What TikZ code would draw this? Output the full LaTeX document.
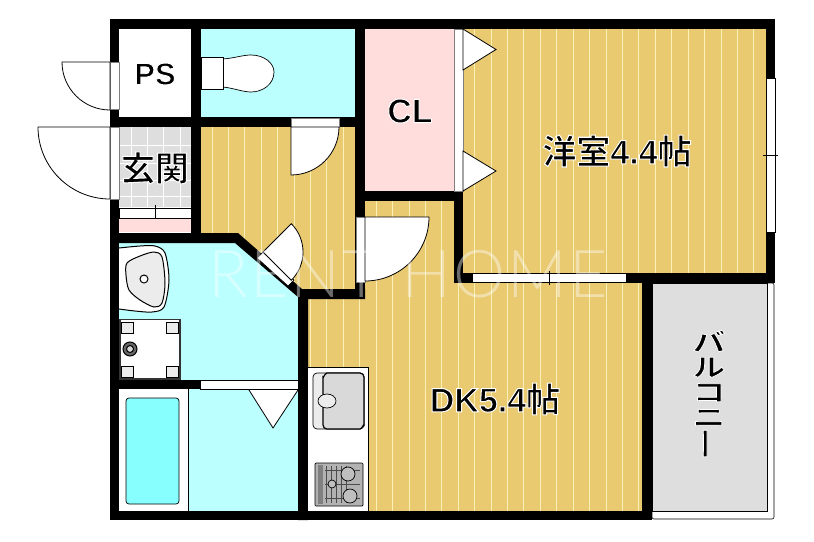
\documentclass[tikz,border=0pt]{standalone}
\usepackage{fontspec}
\usepackage{graphicx}
\setmainfont{Liberation Sans}
\newfontfamily\labelfont[FakeBold = 3]{Liberation Sans Bold}
\newfontfamily\cjk[FakeBold = 3]{Noto Sans CJK JP Bold}
\newfontfamily\cjkwide[FakeBold = 3, FakeStretch = 1.3]{Noto Sans CJK JP Bold}
\newfontfamily\markfont[LetterSpace = 3.3]{Lato Light}
\definecolor{floorwood}{HTML}{E9CA70}
\definecolor{floorline}{HTML}{FFF0B8}
\definecolor{wetroom}{HTML}{BBFFFF}
\definecolor{closetpink}{HTML}{FFDDDD}
\definecolor{tilegray}{HTML}{DEDEDE}
\definecolor{tubblue}{HTML}{88FFFF}
\newcommand{\whiterim}{\special{pdf:code 1 1 1 RG}}
\tikzset{
	wall/.style = {fill = black},
	door/.style = {draw = black, fill = white, line width = 0.8pt},
	fitting/.style = {draw = black, fill = white, line width = 0.7pt},
	roomlabel/.style = {inner sep = 0pt, font = \labelfont\fontsize{34}{34}\selectfont}
}

\begin{document}
\begin{tikzpicture}[x = 1pt, y = -1pt]
\useasboundingbox (0, 0) rectangle (814, 541);

% Wooden floors

\begin{scope}
	\clip (201, 127) rectangle (365, 299) (308, 283) rectangle (642, 511) (365, 201) rectangle (454, 283) (463, 29) rectangle (766, 273);
	\fill [floorwood] (201, 29) rectangle (766, 511);
	\foreach \k in {0, ..., 33}
		\draw [floorline, line width = 1pt] ({212 + 16.42 * \k}, 29) -- ({212 + 16.42 * \k}, 511);
\end{scope}

% Other floors

\fill [wetroom] (201, 29) rectangle (355, 117);
\fill [wetroom] (119, 243) -- (236, 243) -- (298, 297) -- (298, 511) -- (119, 511) -- cycle;
\fill [closetpink] (365, 29) rectangle (454, 191);
\fill [closetpink] (119, 219) rectangle (191, 232);
\fill [tilegray] (119, 127) rectangle (191, 207);
\foreach \x in {131, 147, 163, 180}
	\draw [white, line width = 0.8pt] (\x, 127) -- (\x, 207);
\foreach \y in {145, 163, 180, 196}
	\draw [white, line width = 0.8pt] (119, \y) -- (191, \y);

% Balcony

\draw [black, fill = white, rounded corners = 2pt, line width = 0.6pt] (652, 283) rectangle (774, 519);
\draw [black, fill = tilegray, line width = 0.6pt] (652, 283) rectangle (767, 511);

% Walls

\fill [wall] (110, 19) rectangle (775, 29);
\fill [wall] (110, 19) rectangle (119, 520);
\fill [wall] (766, 19) rectangle (775, 283);
\fill [wall] (454, 273) rectangle (775, 283);
\fill [wall] (110, 511) rectangle (652, 520);
\fill [wall] (191, 29) rectangle (201, 242);
\fill [wall] (110, 117) rectangle (365, 127);
\fill [wall] (355, 29) rectangle (365, 299);
\fill [wall] (355, 191) rectangle (463, 201);
\fill [wall] (454, 29) rectangle (463, 283);
\fill [wall] (642, 283) rectangle (652, 520);
\fill [wall] (110, 380) rectangle (200, 389);
\fill [wall] (110, 233) -- (238, 233) -- (302, 289) -- (365, 289) -- (365, 299) -- (308, 299) -- (308, 520) -- (298, 520) -- (298, 297) -- (235, 243) -- (110, 243) -- cycle;

% Windows and thresholds

\draw [fitting] (472, 273.5) rectangle (626, 282.5);
\draw [black, line width = 0.6pt] (549, 271) -- (549, 285);
\draw [fitting] (766.5, 78) rectangle (775, 232);
\draw [black, line width = 0.6pt] (763, 155) -- (778, 155);
\draw [fitting] (119, 208) rectangle (191, 218);
\draw [black, line width = 0.6pt] (155, 205) -- (155, 219);
\draw [fitting] (200, 380) rectangle (298, 389);
\draw [fitting, draw = gray] (454, 29) rectangle (463, 191);
\draw [fitting, draw = gray] (110.5, 62) rectangle (119, 109);
\draw [fitting, draw = gray] (110.5, 127) rectangle (119, 199);
\draw [fitting, draw = gray] (291, 118) rectangle (339, 127);
\draw [fitting, draw = gray] (356, 217) rectangle (365, 282);
\draw [fitting] (257, 258) -- (263, 252) -- (294, 280) -- (288, 286) -- cycle;

% Doors

\draw [door] (110, 62) -- (62, 62) arc (180 : 90 : 48) -- cycle;
\draw [door] (110, 127) -- (38, 127) arc (180 : 90 : 72) -- cycle;
\draw [door] (291, 127) -- (339, 127) arc (0 : 90 : 48) -- cycle;
\draw [door] (263, 252) -- (291.3, 223.7) arc (-45 : 45 : 40) -- cycle;
\draw [door] (365, 217) -- (429, 217) arc (0 : 90 : 64) -- cycle;
\draw [door] (463, 29) -- (496, 49.5) -- (463, 70) -- cycle;
\draw [door] (463, 151) -- (496, 171) -- (463, 191) -- cycle;
\draw [door] (249, 390) -- (273, 428) -- (298, 390);

% Toilet

\draw [fitting] (223, 59) .. controls (235, 58) and (243, 55) .. (251, 55) .. controls (264, 55) and (274, 63) .. (274, 72) .. controls (274, 84) and (263, 92) .. (251, 92) .. controls (243, 92) and (233, 88) .. (223, 87) -- cycle;
\draw [fitting] (201, 57) rectangle (223, 89);

% Wash basin

\draw [fitting, line width = 1pt] plot [smooth] coordinates {(119, 248) (140, 246) (155, 246) (165, 253) (169, 280) (164, 307) (152, 312) (135, 311) (119, 309)};
\draw [fitting, fill = gray!15, line width = 1pt] plot [smooth cycle] coordinates {(127, 263) (140, 256) (154, 252) (162, 257) (165, 283) (162, 303) (154, 307) (140, 300) (129, 290) (126, 275)};
\draw [fitting, line width = 1pt] (144, 279) circle (4);

% Washing machine pan

\draw [fitting, line width = 1.2pt, draw = black!80] (120, 319.5) rectangle (180, 379);
\foreach \x in {121, 166}
	\foreach \y in {322, 366}
		\draw [fitting, fill = gray!15] (\x, \y) rectangle ++(12, 11);
\draw [fitting, fill = black!60, line width = 1pt] (130, 349) circle (7);
\draw [fitting, fill = gray!30, line width = 1pt] (130, 349) circle (3.5);

% Bath

\draw [fitting, draw = none] (119, 389) rectangle (188, 511);
\draw [black, line width = 0.6pt] (188, 389) -- (188, 511);
\draw [fitting, fill = tubblue, rounded corners = 3pt] (126, 398) rectangle (179, 504);

% Kitchen counter

\draw [fitting] (308, 367) -- (368, 367) -- (368, 511) -- (308, 511);
\draw [fitting, fill = gray!15, rounded corners = 4pt] (313, 373) rectangle (364, 429);
\draw [fitting, fill = gray!30, line width = 1.2pt] (327, 373) -- (360, 373) to [out = 0, in = 90] (364, 377) -- (364, 425) to [out = 90, in = 0] (360, 429) -- (327, 429) to [out = 180, in = 270] (323, 425) -- (323, 410) -- (323, 392) -- (323, 377) to [out = 270, in = 180] (327, 373) -- cycle;
\draw [fitting, fill = gray!15] (327, 401) ellipse (9 and 7);
\draw [fitting, fill = gray!60, rounded corners = 1pt] (315, 463) rectangle (363, 506);
\fill [gray] (318, 465) rectangle (323, 504);
\foreach \x in {326, 331, ..., 346}
	\draw [black!70, line width = 0.5pt] (\x, 466) -- (\x, 503);
\foreach \y in {470, 484, 498}
	\draw [black!70, line width = 0.5pt] (325, \y) -- (360, \y);
\draw [fitting, fill = gray!50] (348, 474) circle (7);
\draw [fitting, fill = gray!50] (350, 496) circle (7);
\draw [fitting, fill = gray!50] (332, 484) circle (4);

% Room labels

\node [roomlabel, font = \labelfont\fontsize{31}{31}\selectfont] (ps) at (155, 74) {\whiterim PS};
\node [roomlabel] (entrance) at (155, 168) {\whiterim\cjk 玄関};
\node [roomlabel] (closet) at (410, 111) {\whiterim CL};
\node [roomlabel] (bedroom) at (617, 151) {\whiterim{\cjk 洋室}4.4{\cjk 帖}};
\node [roomlabel] (dining) at (495, 399) {\whiterim DK5.4{\cjk 帖}};
\node [roomlabel, align = center, font = \cjkwide\fontsize{25}{25}\selectfont] (balcony) at (709, 395) {\whiterim バ\\\whiterim ル\\\whiterim コ\\\whiterim ニ\\\rotatebox{90}{\whiterim ー}};

% Watermark

\node [inner sep = 0pt, white, text opacity = 0.42, font = \markfont\fontsize{66}{66}\selectfont] (watermark) at (408, 274) {RENT HOME};

\end{tikzpicture}
\end{document}
